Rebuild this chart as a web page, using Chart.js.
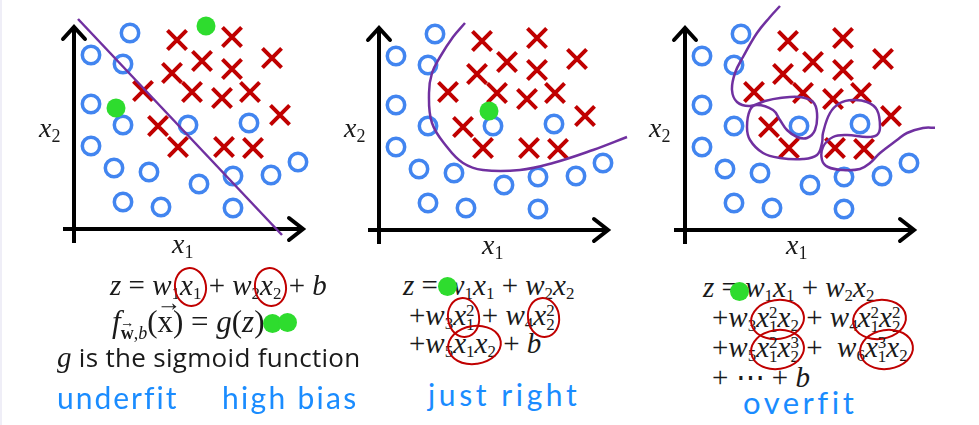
<!DOCTYPE html>
<html>
<head>
<meta charset="utf-8">
<script src="https://cdn.jsdelivr.net/npm/chart.js@4.4.0/dist/chart.umd.min.js"></script>
<style>
html, body { margin: 0; padding: 0; background: #fff; }
body { width: 979px; height: 425px; position: relative; overflow: hidden; }
canvas { position: absolute; }
.edge { position: absolute; left: 0; top: 0; width: 2px; height: 425px; background: #efeef7; }
.t { position: absolute; white-space: nowrap; line-height: 1; }
.m { font-family: "Liberation Serif", serif; font-size: 29px; color: #1a1a1a; }
.m i { font-style: italic; }
.m sub { font-size: 17px; vertical-align: -0.25em; }
.ss { display: inline-block; vertical-align: -0.3em; font-size: 17px; line-height: 0.85; text-align: left; }
.rc { position: relative; display: inline-block; }
.rc::after { content: ""; position: absolute; left: -6px; right: -6px; top: -4px; bottom: -5px;
  border: 2.5px solid #c00000; border-radius: 50%; transform: rotate(-8deg); }
.vec { position: relative; display: inline-block; }
.vec::before { content: "\2192"; position: absolute; left: -1px; right: -1px; text-align: center;
  top: -0.62em; font-size: 0.8em; font-style: normal; }
.lbl { font-family: "Liberation Serif", serif; font-size: 28px; color: #1a1a1a; }
.lbl i { font-style: italic; }
.lbl sub { font-size: 18px; vertical-align: -0.3em; }
.plain { font-family: "Open Sans", sans-serif; font-size: 26px; color: #1a1a1a; letter-spacing: 0.3px; }
.hand { font-family: Lato, sans-serif; font-weight: 400; color: #1a8cff; font-size: 30px; letter-spacing: 2px; }
.dot { position: absolute; width: 19px; height: 19px; border-radius: 50%; background: #2edc2e; }
</style>
</head>
<body>
<div class="edge"></div>
<canvas id="underfit" width="300" height="255" style="left:24px;top:-1px"></canvas>
<canvas id="justright" width="300" height="255" style="left:329px;top:0px"></canvas>
<canvas id="overfit" width="300" height="255" style="left:635px;top:0px"></canvas>

<!-- axis labels -->
<div class="t lbl" style="left:39px;top:114px"><i>x</i><sub>2</sub></div>
<div class="t lbl" style="left:344px;top:114px"><i>x</i><sub>2</sub></div>
<div class="t lbl" style="left:649px;top:114px"><i>x</i><sub>2</sub></div>
<div class="t lbl" style="left:172px;top:230px"><i>x</i><sub>1</sub></div>
<div class="t lbl" style="left:482px;top:231px"><i>x</i><sub>1</sub></div>
<div class="t lbl" style="left:786px;top:231px"><i>x</i><sub>1</sub></div>

<!-- underfit text -->
<div class="t m" style="left:110px;top:271px"><i>z</i> = <i>w</i><sub>1</sub><span class="rc"><i>x</i><sub>1</sub></span> + <i>w</i><sub>2</sub><span class="rc"><i>x</i><sub>2</sub></span> + <i>b</i></div>
<div class="t m" style="left:112px;top:306px;font-size:31px"><i>f</i><sub style="font-size:18px;vertical-align:-0.4em"><span class="vec"><b>w</b></span>,<i>b</i></sub>(<span class="vec">x</span>) = <i>g</i>(<i>z</i>)</div>
<div class="t plain" style="left:57px;top:343px"><span style="font-family:'Liberation Serif',serif;font-style:italic;font-size:29px">g</span> is the sigmoid function</div>
<div class="t hand" style="left:57px;top:382px">underfit</div>
<div class="t hand" style="left:222px;top:382px;letter-spacing:2.3px">high bias</div>

<!-- just right text -->
<div class="t m" style="left:403px;top:271px"><i>z</i> = <i>w</i><sub>1</sub><i>x</i><sub>1</sub> + <i>w</i><sub>2</sub><i>x</i><sub>2</sub></div>
<div class="t m" style="left:409px;top:301px">+<i>w</i><sub>3</sub><span class="rc"><i>x</i><span class="ss">2<br>1</span></span> + <i>w</i><sub>4</sub><span class="rc"><i>x</i><span class="ss">2<br>2</span></span></div>
<div class="t m" style="left:409px;top:329px">+<i>w</i><sub>5</sub><span class="rc"><i>x</i><sub>1</sub><i>x</i><sub>2</sub></span> + <i>b</i></div>
<div class="t hand" style="left:428px;top:379px;letter-spacing:3.6px">just right</div>

<!-- overfit text -->
<div class="t m" style="left:703px;top:273px"><i>z</i> = <i>w</i><sub>1</sub><i>x</i><sub>1</sub> + <i>w</i><sub>2</sub><i>x</i><sub>2</sub></div>
<div class="t m" style="left:712px;top:303px">+<i>w</i><sub>3</sub><span class="rc"><i>x</i><span class="ss">2<br>1</span><i>x</i><sub>2</sub></span> + <i>w</i><sub>4</sub><span class="rc"><i>x</i><span class="ss">2<br>1</span><i>x</i><span class="ss">2<br>2</span></span></div>
<div class="t m" style="left:712px;top:333px">+<i>w</i><sub>5</sub><span class="rc"><i>x</i><span class="ss">2<br>1</span><i>x</i><span class="ss">3<br>2</span></span> + &nbsp;<i>w</i><sub>6</sub><span class="rc"><i>x</i><span class="ss">3<br>1</span><i>x</i><sub>2</sub></span></div>
<div class="t m" style="left:712px;top:363px">+ &#8943; + <i>b</i></div>
<div class="t hand" style="left:743px;top:387px;font-size:31px;letter-spacing:3.5px">overfit</div>

<!-- green pointer dots over the formulas -->
<div class="dot" style="left:263px;top:314px"></div>
<div class="dot" style="left:278px;top:313px"></div>
<div class="dot" style="left:438px;top:277px"></div>
<div class="dot" style="left:730px;top:282px"></div>

<script>
// training examples (x1, x2), same set in all three panels
const blueX1 = [56, 17, 49, 17, 49, 114, 175, 17, 40, 75, 125, 159, 197, 224, 49, 87, 159];
const blueX2 = [196, 174, 165, 125, 104, 104, 106, 83, 61, 57, 45, 53, 54, 67, 27, 22, 21];
const redX1 = [103, 158, 128, 158, 198, 98, 69, 118, 148, 176, 206, 84, 104, 150, 179];
const redX2 = [189, 192, 168, 160, 171, 156, 138, 137, 131, 137, 114, 103, 82, 82, 81];

// green pointer dots
const greenUnderX1 = [132, 42];
const greenUnderX2 = [203, 121];
const greenRightX1 = [110];
const greenRightX2 = [119];

// decision boundaries
const lineUnderX1 = [4, 208];
const lineUnderX2 = [210, -6];
const lineRightX1 = [86, 74, 61, 53, 50, 53, 68, 84, 104, 141, 174, 214, 248];
const lineRightX2 = [207, 193, 173, 157, 137, 107, 83, 67, 60, 60, 67, 80, 93];
const lineOverX1 = [95, 85, 72, 58, 50, 47, 52, 65, 80, 95, 115, 128, 132, 130, 122, 112, 102, 95, 88, 72,
  65, 62, 65, 78, 95, 118, 132, 137, 138, 145, 155, 168, 182, 192, 195, 192, 182, 162, 148, 138,
  137, 143, 158, 175, 185, 195, 212, 222, 238, 255, 267];
const lineOverX2 = [224, 213, 197, 173, 157, 140, 128, 124, 129, 132, 133, 128, 117, 100, 92, 93, 100, 110, 120, 125,
  120, 103, 90, 77, 72, 71, 75, 87, 97, 117, 127, 130, 128, 120, 103, 95, 93, 95, 93, 83,
  70, 63, 60, 61, 67, 77, 90, 97, 102, 103, 110];

// axis extents in data units
const xAxisFrom = -11, xAxisTo = 229;
const yAxisFrom = -14, yAxisTo = 202;

const BLUE = '#4285f0', RED = '#c00000', PURPLE = '#7030a0', GREEN = '#2edc2e';

function pts(xs, ys) {
    return xs.map((x, i) => ({x: x, y: ys[i]}));
}

const axesPlugin = {
    id: 'arrowAxes',
    beforeDatasetsDraw(chart) {
        const c = chart.ctx, xs = chart.scales.x, ys = chart.scales.y;
        const ox = xs.getPixelForValue(0), oy = ys.getPixelForValue(0);
        const yTop = ys.getPixelForValue(yAxisTo), yBot = ys.getPixelForValue(yAxisFrom);
        const xL = xs.getPixelForValue(xAxisFrom), xR = xs.getPixelForValue(xAxisTo);
        c.save();
        c.strokeStyle = '#000';
        c.lineWidth = 4;
        c.lineCap = 'butt';
        c.lineJoin = 'miter';
        c.beginPath();
        c.moveTo(ox, yBot); c.lineTo(ox, yTop + 2);
        c.moveTo(xL, oy); c.lineTo(xR - 2, oy);
        c.stroke();
        c.lineCap = 'round';
        c.beginPath();
        c.moveTo(ox - 11, yTop + 12); c.lineTo(ox, yTop); c.lineTo(ox + 11, yTop + 12);
        c.moveTo(xR - 14, oy - 11); c.lineTo(xR, oy); c.lineTo(xR - 14, oy + 11);
        c.stroke();
        c.restore();
    }
};

function makeChart(id, lineX, lineY, greenX, greenY, tension) {
    new Chart(document.getElementById(id), {
        type: 'scatter',
        data: {
            datasets: [
                {data: pts(greenX, greenY), pointStyle: 'circle', pointRadius: 9.5, backgroundColor: GREEN, borderWidth: 0, order: 0},
                {type: 'line', data: pts(lineX, lineY), showLine: true, borderColor: PURPLE, borderWidth: 2.5,
                 pointRadius: 0, tension: tension, fill: false, order: 1},
                {data: pts(redX1, redX2), pointStyle: 'crossRot', pointRadius: 13.5, borderColor: RED, borderWidth: 4, order: 2},
                {data: pts(blueX1, blueX2), pointStyle: 'circle', pointRadius: 8.7, borderColor: BLUE, borderWidth: 3.5,
                 backgroundColor: 'rgba(255,255,255,0)', order: 3}
            ]
        },
        options: {
            responsive: false,
            animation: false,
            clip: false,
            layout: {padding: 0, autoPadding: false},
            plugins: {legend: {display: false}, tooltip: {enabled: false}},
            scales: {
                x: {type: 'linear', min: -50, max: 250, display: false},
                y: {type: 'linear', min: -25, max: 230, display: false}
            }
        },
        plugins: [axesPlugin]
    });
}

makeChart('underfit', lineUnderX1, lineUnderX2, greenUnderX1, greenUnderX2, 0);
makeChart('justright', lineRightX1, lineRightX2, greenRightX1, greenRightX2, 0.4);
makeChart('overfit', lineOverX1, lineOverX2, [], [], 0.4);
</script>
</body>
</html>
